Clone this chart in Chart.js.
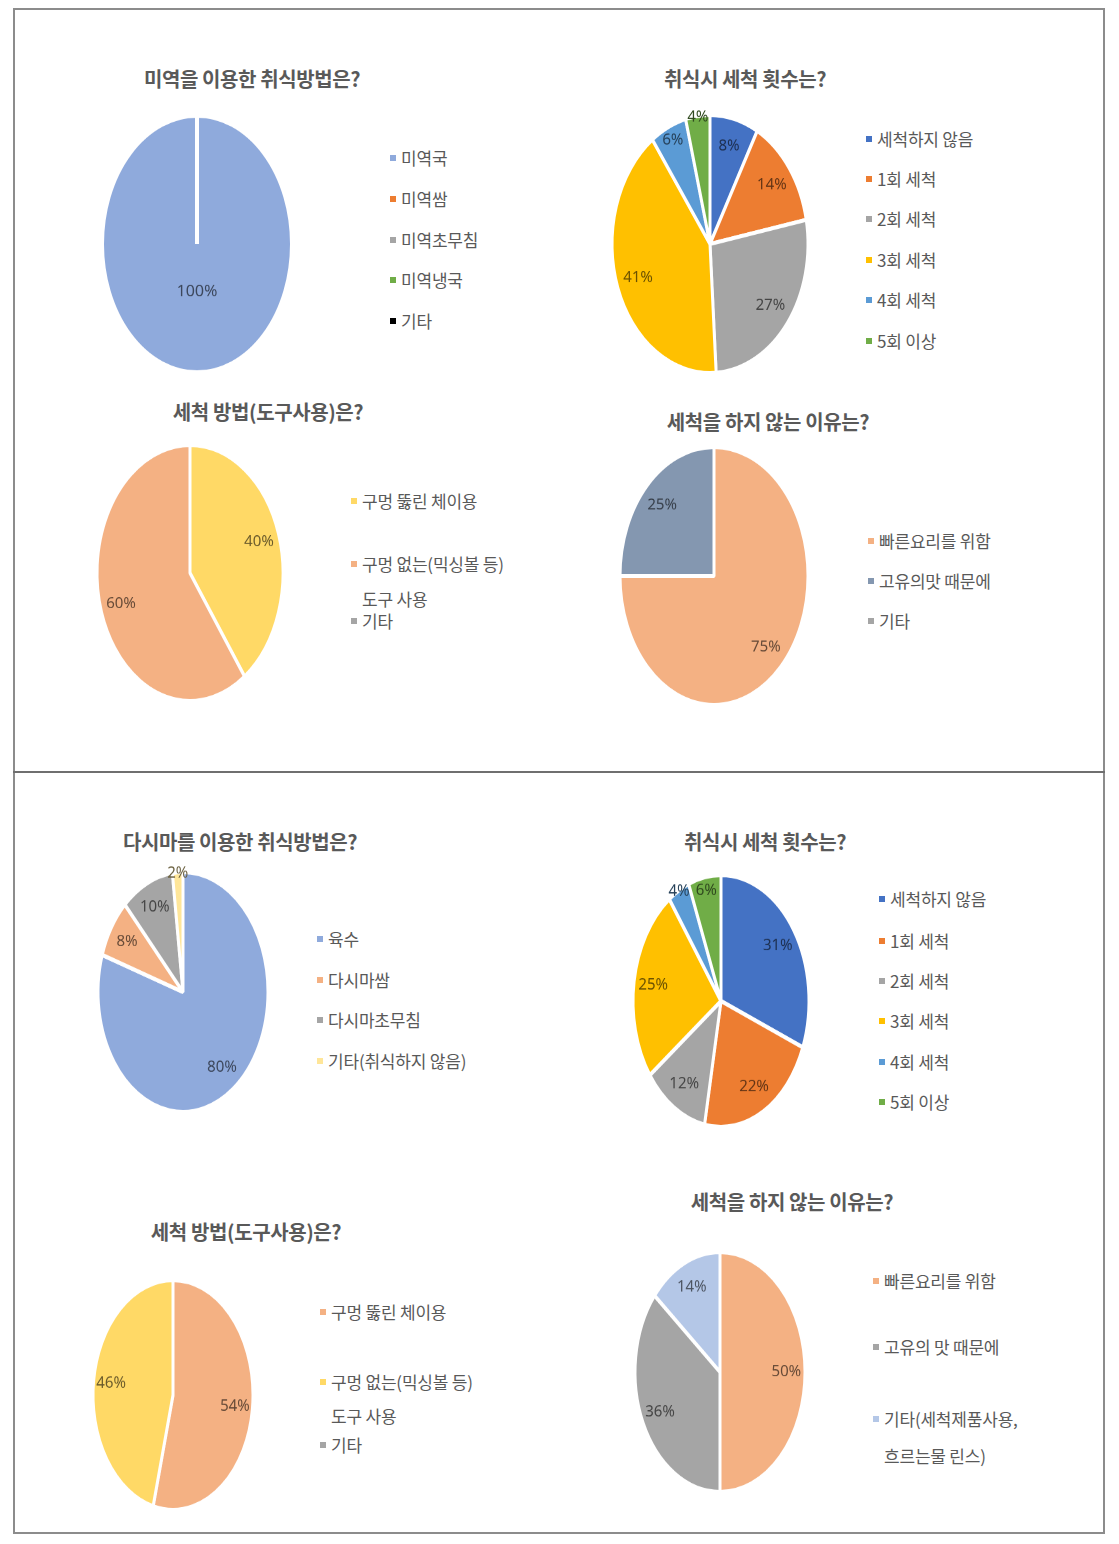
<!DOCTYPE html>
<html><head><meta charset="utf-8">
<script src="https://cdn.jsdelivr.net/npm/chart.js@4.4.1/dist/chart.umd.min.js"></script>
<style>
html,body{margin:0;padding:0;background:#fff;}
body{width:1119px;height:1544px;position:relative;overflow:hidden;font-family:'Noto Sans CJK KR','Noto Sans',sans-serif;}
.box{position:absolute;box-sizing:border-box;}
.title{position:absolute;transform:translate(-50%,-50%);font-weight:bold;font-size:20px;color:#595959;white-space:nowrap;letter-spacing:-0.4px;}
.lg{position:absolute;transform:translateY(-50%);font-size:17px;color:#595959;white-space:nowrap;line-height:1;letter-spacing:-0.2px;}
.bul{position:absolute;width:6px;height:6px;}
.pie{position:absolute;}
</style></head><body>
<script>
// ---------- data ----------
const m1Title = '미역을 이용한 취식방법은?';
const m1Labels = ['미역국','미역쌈','미역초무침','미역냉국','기타'];
const m1Values = [100,0,0,0,0];

const m2Title = '취식시 세척 횟수는?';
const m2Labels = ['세척하지 않음','1회 세척','2회 세척','3회 세척','4회 세척','5회 이상'];
const m2Values = [8,14,27,41,6,4];

const m3Title = '세척 방법(도구사용)은?';
const m3Labels = ['구멍 뚫린 체이용','구멍 없는(믹싱볼 등)\n도구 사용','기타'];
const m3Values = [40,60,0];

const m4Title = '세척을 하지 않는 이유는?';
const m4Labels = ['빠른요리를 위함','고유의맛 때문에','기타'];
const m4Values = [75,25,0];

const d1Title = '다시마를 이용한 취식방법은?';
const d1Labels = ['육수','다시마쌈','다시마초무침','기타(취식하지 않음)'];
const d1Values = [80,8,10,2];

const d2Title = '취식시 세척 횟수는?';
const d2Labels = ['세척하지 않음','1회 세척','2회 세척','3회 세척','4회 세척','5회 이상'];
const d2Values = [31,22,12,25,4,6];

const d3Title = '세척 방법(도구사용)은?';
const d3Labels = ['구멍 뚫린 체이용','구멍 없는(믹싱볼 등)\n도구 사용','기타'];
const d3Values = [54,46,0];

const d4Title = '세척을 하지 않는 이유는?';
const d4Labels = ['빠른요리를 위함','고유의 맛 때문에','기타(세척제품사용,\n흐르는물 린스)'];
const d4Values = [50,36,14];

// ---------- styles / layout ----------
const OFFICE6 = ['#4472C4','#ED7D31','#A5A5A5','#FFC000','#5B9BD5','#70AD47'];
const charts = [
  {title:m1Title, labels:m1Labels, values:m1Values, colors:['#8FAADC','#ED7D31','#A5A5A5','#70AD47','#000000'],
   tx:252, ty:78, cx:197, cy:244, rx:95, ry:129, lx:401, lys:[157,198,239,279,320], wrap:35, bw:4, fs:16},
  {title:m2Title, labels:m2Labels, values:m2Values, colors:OFFICE6,
   tx:745, ty:78, cx:710, cy:244, rx:98, ry:129, lx:877, lys:[138,178,218,259,299,340], wrap:35, bw:3, fs:15},
  {title:m3Title, labels:m3Labels, values:m3Values, colors:['#FFD966','#F4B183','#A5A5A5'],
   tx:268, ty:411, cx:190, cy:573, rx:93, ry:128, lx:362, lys:[500,563,620], wrap:35, bw:3, fs:15},
  {title:m4Title, labels:m4Labels, values:m4Values, colors:['#F4B183','#8497B0','#A5A5A5'],
   tx:768, ty:421, cx:714, cy:576, rx:94, ry:129, lx:879, lys:[540,580,620], wrap:35, bw:3, fs:15},
  {title:d1Title, labels:d1Labels, values:d1Values, colors:['#8FAADC','#F4B183','#A5A5A5','#FFE699'],
   tx:240, ty:841, cx:183, cy:992, rx:85, ry:120, lx:328, lys:[938,979,1019,1060], wrap:35, bw:3, fs:15},
  {title:d2Title, labels:d2Labels, values:d2Values, colors:OFFICE6,
   tx:765, ty:841, cx:721, cy:1001, rx:88, ry:126, lx:890, lys:[898,940,980,1020,1061,1101], wrap:35, bw:3, fs:15},
  {title:d3Title, labels:d3Labels, values:d3Values, colors:['#F4B183','#FFD966','#A5A5A5'],
   tx:246, ty:1231, cx:173, cy:1395, rx:80, ry:115, lx:331, lys:[1311,1381,1444], wrap:34, bw:3, fs:15},
  {title:d4Title, labels:d4Labels, values:d4Values, colors:['#F4B183','#A5A5A5','#B4C7E7'],
   tx:792, ty:1201, cx:720, cy:1372, rx:85, ry:120, lx:884, lys:[1280,1346,1418], wrap:37, bw:3, fs:15}
];

function darken(hex, f){
  const n = parseInt(hex.slice(1),16);
  const r = Math.round(((n>>16)&255)*f), g = Math.round(((n>>8)&255)*f), b = Math.round((n&255)*f);
  return `rgb(${r},${g},${b})`;
}

const pctLabels = {
  id:'pctLabels',
  afterDatasetsDraw(chart, args, opts){
    const ctx = chart.ctx;
    const meta = chart.getDatasetMeta(0);
    const ds = chart.data.datasets[0];
    meta.data.forEach((arc, i) => {
      const v = ds.data[i];
      if (!v) return;
      const p = arc.getProps(['startAngle','endAngle','outerRadius','x','y'], true);
      const mid = (p.startAngle + p.endAngle) / 2;
      const frac = v >= 100 ? 0.37 : (v < 5 ? 0.99 : (v < 7 ? 0.89 : 0.78));
      const r = p.outerRadius * frac;
      const px = p.x + Math.cos(mid) * r, py = p.y + Math.sin(mid) * r;
      ctx.save();
      ctx.translate(px, py);
      ctx.scale(1, 1 / opts.sy);
      ctx.font = `${opts.fs}px 'Noto Sans', 'DejaVu Sans', sans-serif`;
      ctx.textAlign = 'center';
      ctx.textBaseline = 'middle';
      ctx.fillStyle = darken(ds.backgroundColor[i], 0.42);
      ctx.fillText(v + '%', 0, 0);
      ctx.restore();
    });
  }
};

function addDiv(cls, css, text){
  const d = document.createElement('div');
  d.className = cls;
  Object.assign(d.style, css);
  if (text !== undefined) d.textContent = text;
  document.body.appendChild(d);
  return d;
}

// frames
addDiv('box', {left:'13px', top:'8px', width:'1092px', height:'1526px', border:'2px solid #8c8c8c'});
addDiv('box', {left:'13px', top:'771px', width:'1092px', height:'1.5px', background:'#6f6f6f'});

charts.forEach(c => {
  addDiv('title', {left:c.tx+'px', top:c.ty+'px'}, c.title);
  // legend
  c.labels.forEach((lab, i) => {
    const y = c.lys[i];
    addDiv('bul', {left:(c.lx-11)+'px', top:(y-2)+'px', background:c.colors[i]});
    const lines = lab.split('\n');
    lines.forEach((ln, k) => {
      addDiv('lg', {left:c.lx+'px', top:(y + k*c.wrap)+'px'}, ln);
    });
  });
  // pie
  const W = 2*c.rx + 12;
  const sy = c.ry / c.rx;
  const wrap = addDiv('pie', {left:(c.cx - W/2)+'px', top:(c.cy - W/2)+'px', width:W+'px', height:W+'px',
    transform:`scaleY(${sy})`, transformOrigin:'50% 50%'});
  const cv = document.createElement('canvas');
  cv.width = W; cv.height = W;
  wrap.appendChild(cv);
  new Chart(cv, {
    type:'pie',
    data:{labels:c.labels, datasets:[{data:c.values, backgroundColor:c.colors, borderColor:'#ffffff', borderWidth:c.bw, radius:c.rx}]},
    options:{
      responsive:false, animation:false, devicePixelRatio:2,
      layout:{padding:0},
      plugins:{legend:{display:false}, title:{display:false}, tooltip:{enabled:false}, pctLabels:{sy:sy, fs:c.fs}}
    },
    plugins:[pctLabels]
  });
});
</script>
</body></html>
